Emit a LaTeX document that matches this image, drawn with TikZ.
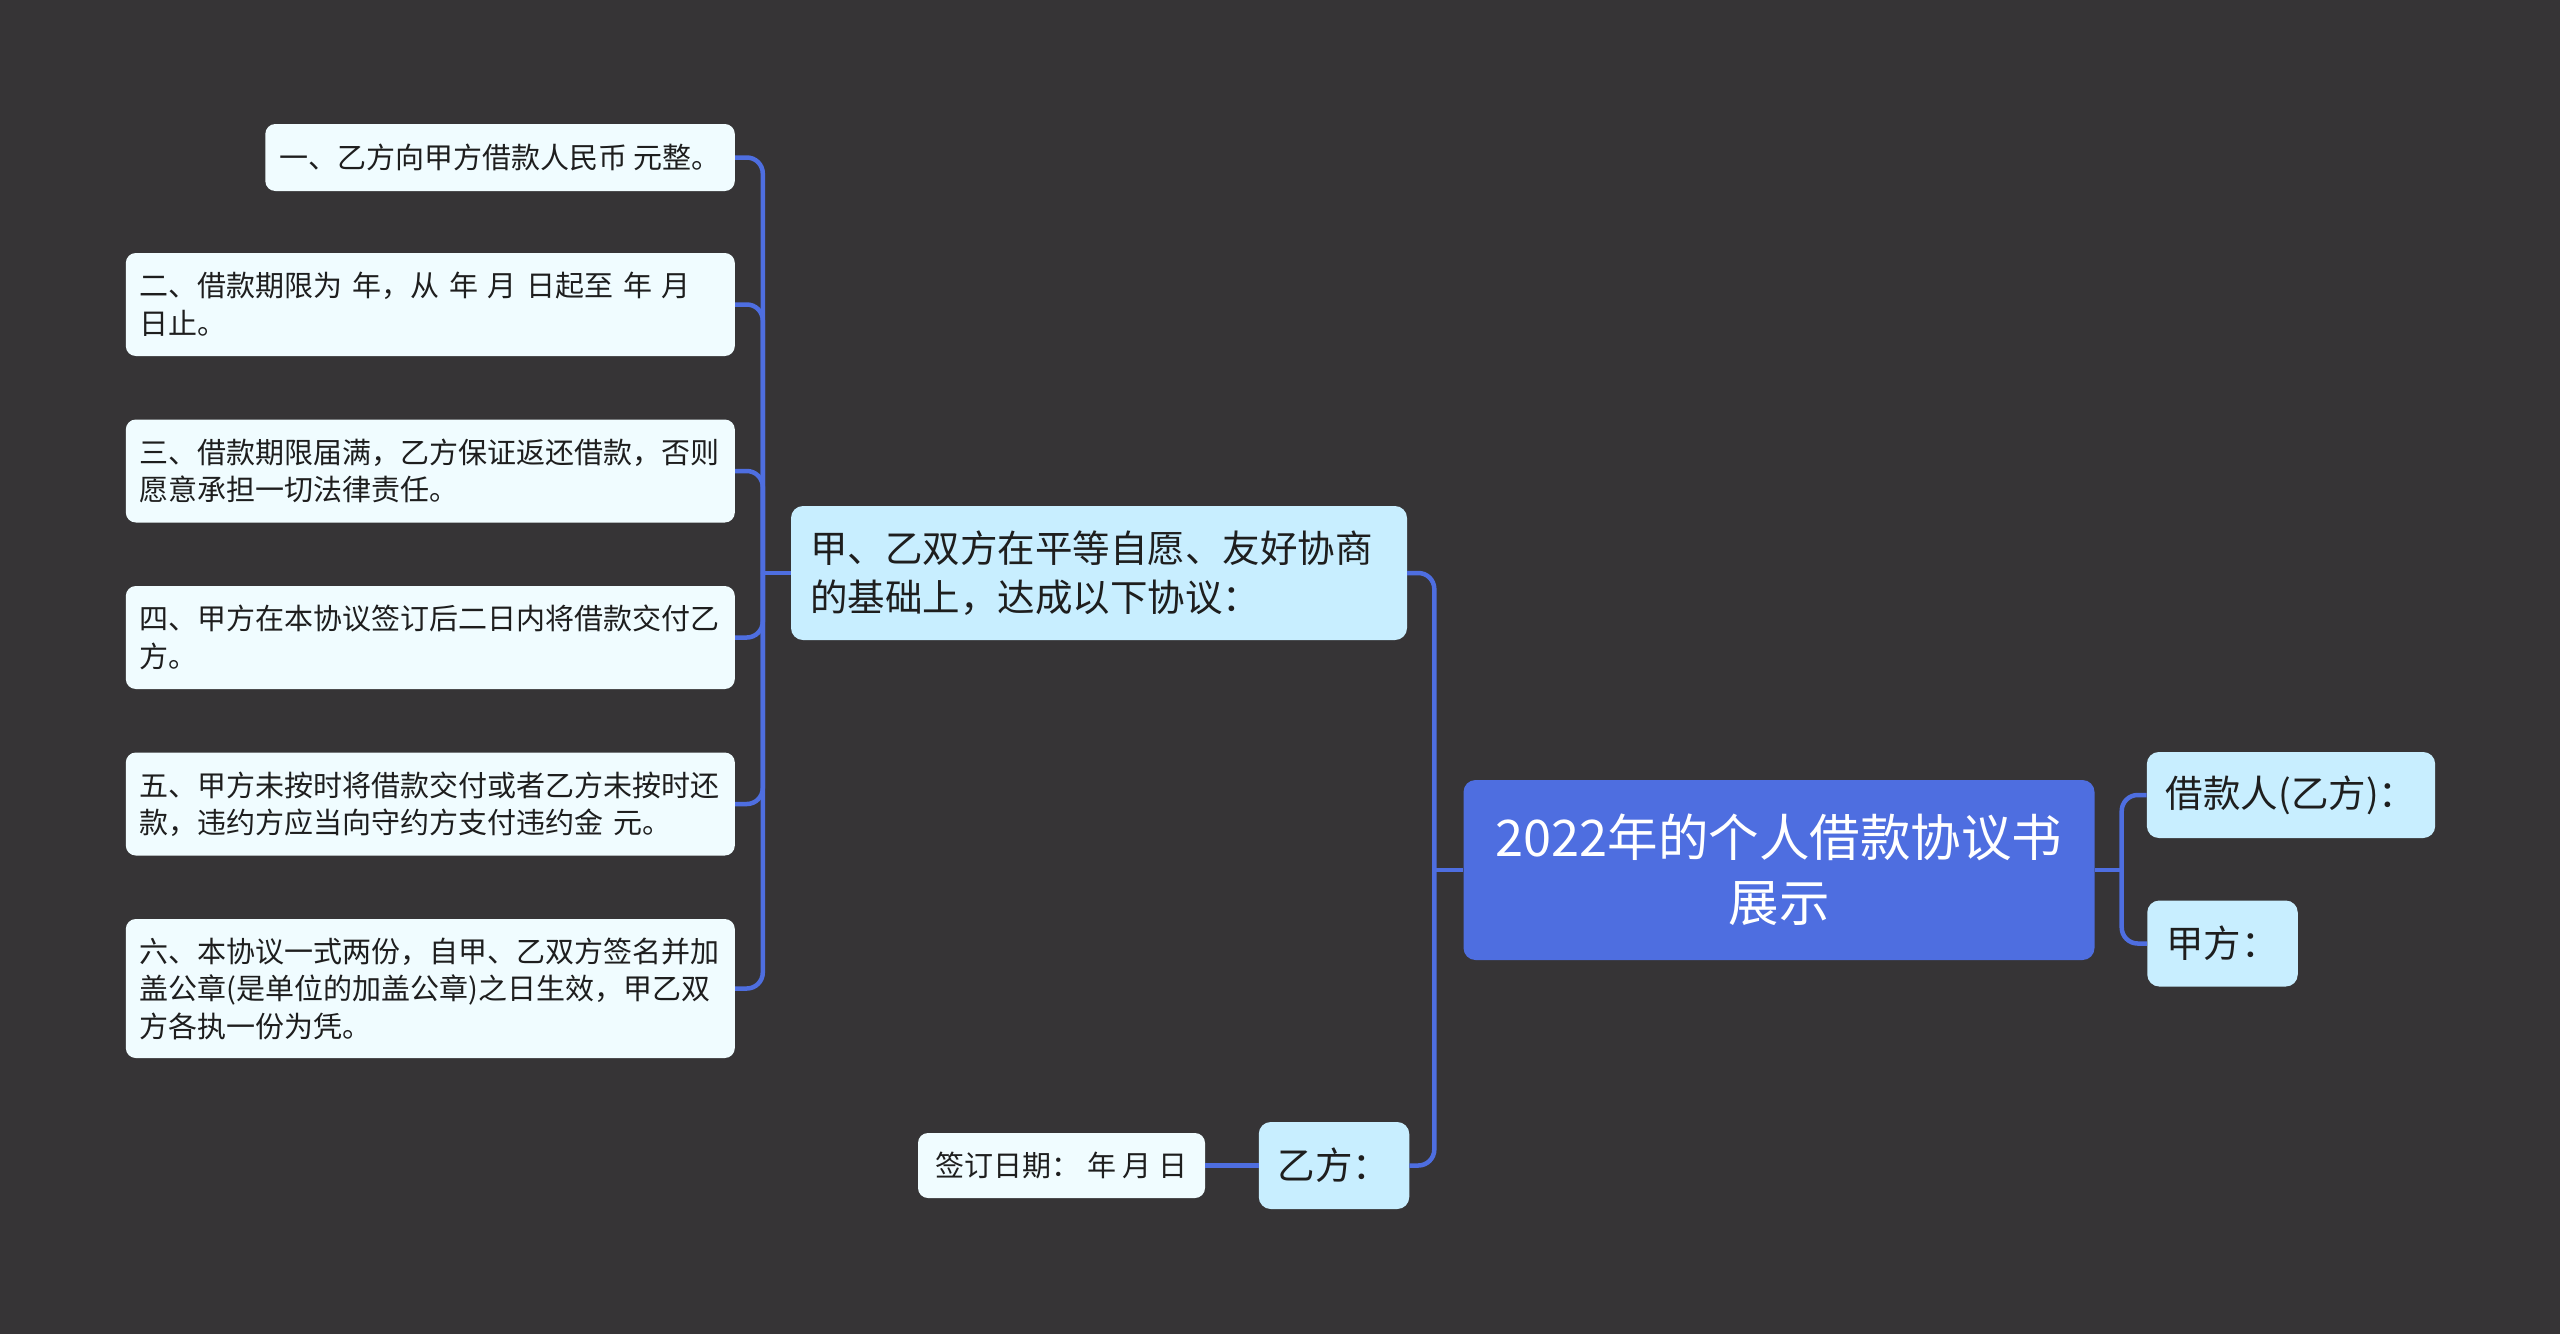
\documentclass[tikz,border=0pt]{standalone}
\usepackage{fontspec}
\newfontfamily\cjk{Noto Sans CJK SC}
\usetikzlibrary{positioning, calc}
\usepackage{xcolor}
\definecolor{mapbg}{RGB}{54,52,54}
\definecolor{mapline}{RGB}{78,110,224}
\definecolor{maproot}{RGB}{78,110,224}
\definecolor{mapmid}{RGB}{200,238,255}
\definecolor{mapleaf}{RGB}{240,252,255}
\definecolor{maptext}{RGB}{30,30,30}

\begin{document}
\begin{tikzpicture}[x=1pt, y=-1pt,
  leafbox/.style={fill=mapleaf, rounded corners=10pt, text=maptext,
    font={\cjk\fontsize{29}{37.5}\selectfont}, inner xsep=14pt, inner ysep=0pt,
    align=left, anchor=east},
  midbox/.style={fill=mapmid, rounded corners=12pt, text=maptext,
    font={\cjk\fontsize{37.5}{49}\selectfont}, inner xsep=19pt, inner ysep=0pt,
    align=left},
  rootbox/.style={fill=maproot, rounded corners=12pt, text=white,
    font={\cjk\fontsize{50.5}{65}\selectfont}, align=center,
    minimum width=631pt, minimum height=180pt},
  link/.style={mapline, line width=4.5pt, rounded corners=16pt}]

  % Background
  \fill[mapbg] (0,0) rectangle (2560,1334);
  \useasboundingbox (0,0) rectangle (2560,1334);

  % Root
  \node[rootbox] (root) at (1779,870) {2022年的个人借款协议书\\展示};

  % Right side: signatures
  \node[midbox, minimum height=86pt] (borrower) at (2291,795) {借款人(乙方)：};
  \node[midbox, minimum height=86pt] (partya) at (2222.5,943.5) {甲方：};

  % Left side: agreement and party B
  \node[midbox, text width=578pt, minimum height=134pt] (agree) at (1099,573)
    {甲、乙双方在平等自愿、友好协商\\的基础上，达成以下协议：};
  \node[midbox, minimum width=150pt, minimum height=87pt] (partyb) at (1334,1165.5) {乙方：};
  \node[leafbox, anchor=center, minimum height=65pt, minimum width=287pt] (signdate) at (1061.5,1165.5)
    {签订日期：\ 年\ 月\ 日};

  % Clauses
  \node[leafbox, minimum height=67pt] (c1) at (735,157.5) {一、乙方向甲方借款人民币 元整。};
  \node[leafbox, text width=581pt, minimum height=103pt] (c2) at (735,304.5)
    {二、借款期限为 年，从 年 月 日起至 年 月\\日止。};
  \node[leafbox, text width=581pt, minimum height=103pt] (c3) at (735,471)
    {三、借款期限届满，乙方保证返还借款，否则\\愿意承担一切法律责任。};
  \node[leafbox, text width=581pt, minimum height=103pt] (c4) at (735,637.5)
    {四、甲方在本协议签订后二日内将借款交付乙\\方。};
  \node[leafbox, text width=581pt, minimum height=103pt] (c5) at (735,804)
    {五、甲方未按时将借款交付或者乙方未按时还\\款，违约方应当向守约方支付违约金 元。};
  \node[leafbox, text width=581pt, minimum height=139pt] (c6) at (735,988.5)
    {六、本协议一式两份，自甲、乙双方签名并加\\盖公章(是单位的加盖公章)之日生效，甲乙双\\方各执一份为凭。};

  % Connectors
  \coordinate (rootleft) at ($(root.west)+(-29,0)$);
  \coordinate (rootright) at ($(root.east)+(27,0)$);
  \coordinate (agreeleft) at ($(agree.west)+(-28,0)$);

  \draw[link] (root.west) -- (rootleft);
  \draw[link] (rootleft) |- (agree.east);
  \draw[link] (rootleft) |- (partyb.east);
  \draw[link] (root.east) -- (rootright);
  \draw[link] (rootright) |- (borrower.west);
  \draw[link] (rootright) |- (partya.west);
  \draw[link] (partyb.west) -- (signdate.east);
  \draw[link] (agree.west) -- (agreeleft);
  \foreach \c in {c1,c2,c3,c4,c5,c6}
    \draw[link] (agreeleft) |- (\c.east);

\end{tikzpicture}
\end{document}
